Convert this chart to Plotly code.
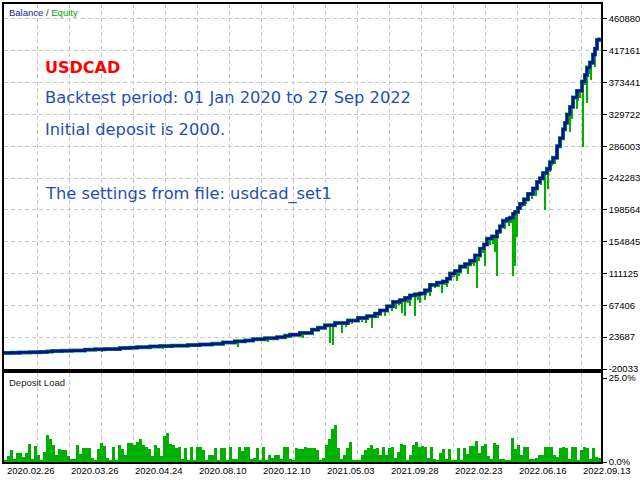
import plotly.graph_objects as go

W, H = 640, 480

BLUE = "#0C0CAA"
GREEN = "#00B000"
TEXT_BLUE = "#1E4FB4"
GRID = "#C8C8C8"

# balance curve, x = trade counter along the chart
bal_x = [4, 12, 20, 30, 40, 47, 52, 62, 72, 85, 95, 105, 120, 130, 137, 150, 160, 172, 188, 200,
         212, 223, 235, 245, 253, 265, 277, 285, 290, 300, 312, 318, 325, 335, 348, 358, 367, 375, 380, 387,
         393, 400, 405, 410, 415, 420, 425, 430, 437, 443, 447, 450, 455, 460, 465, 470, 475, 480, 484, 487,
         492, 497, 500, 503, 507, 510, 513, 515, 518, 520, 524, 528, 533, 537, 540, 543, 547, 550, 553, 557,
         560, 563, 565, 567, 570, 573, 577, 582, 585, 587, 590, 593, 595, 597, 599]
bal_v = [2000, 2300, 2700, 3000, 3300, 3900, 4600, 5000, 5300, 6500, 7000, 7400, 8700, 9200, 10000, 11000, 11500, 12000, 12800, 13600,
         14500, 16500, 18000, 19000, 21000, 22300, 23700, 25500, 27000, 29500, 34000, 36500, 40000, 43000, 46500, 50000, 52500, 56000, 60500, 66000,
         72000, 74500, 77500, 81000, 82500, 83800, 88000, 95500, 98500, 100200, 104000, 111000, 114500, 120700, 124000, 128500, 136000, 145300, 151000, 159000,
         162000, 169000, 176000, 183500, 186000, 187600, 193000, 195800, 201000, 206800, 213000, 220400, 228000, 236800, 242000, 249100, 255000, 264100, 270000, 286000,
         297000, 309200, 318000, 329700, 340000, 353000, 362000, 375000, 384000, 394000, 401000, 412000, 420000, 432000, 435000]

# equity drawdowns: equity low against the balance level at that trade
dip_x = [10, 48, 102, 130, 163, 238, 268, 303, 330, 333,
         342, 346, 352, 362, 366, 372, 378, 385, 392, 396,
         399, 402, 405, 408, 410, 415, 418, 420, 425, 428,
         430, 435, 439, 442, 445, 447, 452, 454, 457, 459,
         462, 466, 468, 472, 474, 477, 479, 481, 483, 485,
         490, 493, 495, 497, 500, 505, 509, 511, 513, 515,
         517, 519, 522, 526, 529, 532, 534, 536, 538, 541,
         544, 545, 548, 550, 552, 555, 558, 561, 563, 566,
         568, 570, 572, 574, 577, 578, 580, 583, 585, 587,
         589, 591, 593, 595, 596, 598]
dip_lo = [600, 1500, 3500, 6000, 7000, 10000, 16800, 22300, 15500, 12800,
          29200, 37400, 41500, 44200, 42800, 36000, 49700, 52400, 59200, 62000,
          68000, 56500, 52400, 70000, 66000, 52400, 75000, 70000, 75000, 84000,
          80000, 90600, 92000, 83800, 95000, 92000, 104300, 106000, 100200, 108000,
          117000, 118000, 111100, 124800, 122000, 90600, 128000, 135700, 140000, 122000,
          150000, 152000, 141000, 108400, 166000, 172600, 176700, 180000, 108400, 122000,
          161700, 193000, 203000, 206800, 212000, 213600, 220000, 218000, 226000, 233000,
          238000, 198600, 227300, 250000, 258700, 262000, 272000, 290000, 305100, 309000,
          318000, 305100, 323000, 340000, 336500, 348000, 352000, 285000, 370000, 346000,
          385000, 377500, 398000, 395300, 410000, 418500]
dip_hi = [2300, 3900, 7000, 9200, 11500, 18000, 22300, 29500, 40000, 40000,
          43000, 43000, 46500, 50000, 50000, 52500, 56000, 60500, 66000, 72000,
          72000, 74500, 77500, 77500, 81000, 82500, 82500, 83800, 88000, 88000,
          95500, 95500, 98500, 98500, 100200, 104000, 111000, 111000, 114500, 114500,
          120700, 124000, 124000, 128500, 128500, 136000, 136000, 145300, 145300, 151000,
          159000, 162000, 162000, 169000, 176000, 183500, 186000, 187600, 193000, 195800,
          195800, 201000, 206800, 213000, 220400, 220400, 228000, 228000, 236800, 242000,
          249100, 249100, 255000, 264100, 264100, 270000, 286000, 297000, 309200, 318000,
          329700, 340000, 340000, 353000, 362000, 362000, 362000, 375000, 384000, 394000,
          394000, 401000, 412000, 420000, 420000, 435000]

# deposit load (%), one bar every 3 trades starting at trade 5
load_start, load_step = 5, 3
deposit_load = [
    0.6, 1.8, 3.6, 0.9, 2.7, 2.7, 1.5, 2.7, 5.4, 0.9,
    4.8, 2.1, 0.6, 3.0, 8.0, 6.8, 5.1, 2.1, 3.9, 3.6,
    3.6, 1.8, 0.9, 0.9, 5.1, 2.4, 4.2, 4.2, 4.2, 1.2,
    0.6, 3.9, 5.7, 4.8, 1.2, 0.3, 4.5, 0.6, 5.1, 3.9,
    2.1, 5.7, 5.7, 5.1, 6.0, 6.8, 5.1, 4.5, 3.9, 1.8,
    5.1, 4.2, 1.8, 7.7, 8.6, 5.4, 5.1, 4.2, 4.5, 0.9,
    4.2, 0.6, 4.5, 0.6, 4.5,
    4.5, 3.6, 0.6, 2.1, 2.1, 4.2, 0.6, 4.2, 4.2, 0.6,
    4.5, 0.9, 0.9, 4.5, 3.3, 4.5, 4.5, 0.9, 1.2, 4.2,
    0.6, 4.5, 0.6, 2.1, 1.2, 2.1, 2.1, 0.9, 4.5, 4.5,
    0.9, 0.6, 4.2, 3.9, 3.9, 4.5, 4.2, 4.2, 4.2, 3.6,
    0.6, 1.2, 5.1, 6.8, 9.8, 11.0, 4.2, 0.9, 2.1, 4.2,
    6.0, 0.6, 0.3, 0.6, 2.1, 3.6, 4.2, 5.1, 3.9, 4.2,
    2.1, 4.5, 2.1, 4.2, 4.5, 1.2, 3.0,
    5.4, 5.1, 0.6, 2.1, 5.1, 6.0, 4.5, 4.8, 4.5, 1.2,
    4.5, 0.9, 0.6, 2.7, 3.9, 0.9, 3.9, 0.6, 0.6, 4.2,
    0.6, 4.2, 2.4, 4.8, 4.8, 6.2, 2.7, 4.8, 5.4, 1.8,
    0.9, 5.7, 5.1, 0.9, 0.9, 0.6, 0.6, 7.1, 3.9, 5.1,
    2.1, 4.5, 4.5, 0.9, 0.9, 1.2, 2.1, 2.1, 4.5, 4.5,
    4.5, 2.1, 1.5, 4.2, 4.5, 4.2, 0.9, 4.5, 4.5, 0.6,
    3.6, 4.5, 4.2, 0.9, 4.2, 1.5, 1.2,
]

bal_ticks = [460880, 417161, 373441, 329722, 286003, 242283, 198564, 154845, 111125, 67406, 23687, -20033]

date_pos = [5, 69, 133, 197, 261, 325, 389, 453, 517, 581]
date_labels = ["2020.02.26", "2020.03.26", "2020.04.24", "2020.08.10", "2020.12.10",
               "2021.05.03", "2021.09.28", "2022.02.23", "2022.06.16", "2022.09.13"]

fig = go.Figure()

fig.add_trace(go.Bar(
    x=dip_x, base=dip_lo, y=[h - l for h, l in zip(dip_hi, dip_lo)],
    width=2.4, marker=dict(color=GREEN, line=dict(width=0)),
    xaxis="x", yaxis="y", hoverinfo="skip"
))
# equity line under the balance
fig.add_trace(go.Scatter(
    x=bal_x, y=bal_v, mode="lines", line=dict(color=GREEN, width=4, shape="hv"),
    xaxis="x", yaxis="y", hoverinfo="skip"
))
fig.add_trace(go.Scatter(
    x=bal_x, y=bal_v, mode="lines", line=dict(color=BLUE, width=2.8, shape="hv"),
    xaxis="x", yaxis="y", hoverinfo="skip"
))
fig.add_trace(go.Bar(
    x0=load_start, dx=load_step, y=deposit_load, width=load_step,
    marker=dict(color=GREEN, line=dict(width=0)),
    xaxis="x2", yaxis="y2", hoverinfo="skip"
))

tick_font = dict(family="Liberation Sans, Arial", size=9.5, color="black")
frame = dict(showline=True, mirror=True, linecolor="black", linewidth=1.5, zeroline=False)
xgrid = dict(tickmode="linear", tick0=37, dtick=32, showticklabels=False, ticks="",
             showgrid=True, gridcolor=GRID, griddash="4px,3px", gridwidth=1)

fig.update_layout(
    width=W, height=H,
    margin=dict(l=0, r=0, t=0, b=0),
    paper_bgcolor="white", plot_bgcolor="white",
    showlegend=False, barmode="overlay", bargap=0,
    xaxis=dict(domain=[4 / W, 601 / W], range=[4, 601], anchor="y", **xgrid, **frame),
    yaxis=dict(domain=[1 - 369 / H, 1 - 4 / H], range=[-20033, 481373], side="right", anchor="x",
               tickmode="array", tickvals=bal_ticks, ticktext=[str(v) for v in bal_ticks],
               ticks="outside", ticklen=4, tickcolor="black", tickfont=tick_font,
               showgrid=True, gridcolor=GRID, griddash="4px,3px", automargin=False, **frame),
    xaxis2=dict(domain=[4 / W, 601 / W], range=[4, 601], anchor="y2", matches="x", **xgrid, **frame),
    yaxis2=dict(domain=[1 - 462 / H, 1 - 373 / H], range=[0, 26.5], side="right", anchor="x2",
                tickmode="array", tickvals=[0, 25], ticktext=["0.0%", "25.0%"],
                ticks="outside", ticklen=4, tickcolor="black", tickfont=tick_font,
                showgrid=False, automargin=False, **frame),
)

ann = []
ann.append(dict(x=7 / W, y=1 - 12 / H, xref="paper", yref="paper", xanchor="left", yanchor="middle",
                showarrow=False, font=dict(family="Liberation Sans, Arial", size=9.5, color="#333333"),
                text="<span style='color:#1A1A8C'>Balance</span> / <span style='color:#00A000'>Equity</span>"))
ann.append(dict(x=7 / W, y=1 - 382 / H, xref="paper", yref="paper", xanchor="left", yanchor="middle",
                showarrow=False, font=dict(family="Liberation Sans, Arial", size=9.5, color="#222222"),
                text="Deposit Load"))
ann.append(dict(x=43 / W, y=1 - 67 / H, xref="paper", yref="paper", xanchor="left", yanchor="middle",
                showarrow=False, font=dict(family="DejaVu Sans", size=16, color="#FF0000"),
                text="<b>USDCAD</b>"))
for txt, yy in [("Backtest period: 01 Jan 2020 to 27 Sep 2022", 97),
                ("Initial deposit is 2000.", 129),
                ("The settings from file: usdcad_set1", 194)]:
    ann.append(dict(x=43 / W, y=1 - yy / H, xref="paper", yref="paper", xanchor="left", yanchor="middle",
                    showarrow=False, font=dict(family="DejaVu Sans", size=16.3, color=TEXT_BLUE), text=txt))
for p, lab in zip(date_pos, date_labels):
    ann.append(dict(x=p, y=1 - 470 / H, xref="x2", yref="paper", xanchor="left", yanchor="middle",
                    showarrow=False, font=tick_font, text=lab))
fig.update_layout(annotations=ann)

fig.write_html("out.html", config={"displayModeBar": False},
               post_script="document.body.style.margin='0';document.body.style.overflow='hidden';")
